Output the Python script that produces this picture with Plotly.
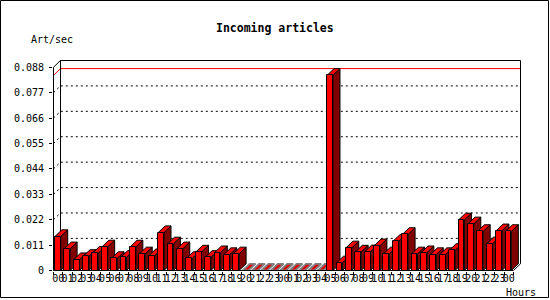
import plotly.graph_objects as go

# ---------------- data ----------------
hours = [f"{h:02d}" for h in range(24)] * 2 + ["00"]
values = [0.0147, 0.0094, 0.0047, 0.0061, 0.0075, 0.0102, 0.0052, 0.0057, 0.0102, 0.0072,
          0.0064, 0.0164, 0.0115, 0.0094, 0.0052, 0.0080, 0.0057, 0.0077, 0.0069, 0.0072,
          0.0, 0.0, 0.0, 0.0, 0.0, 0.0, 0.0, 0.0, 0.0, 0.0845,
          0.0033, 0.0098, 0.0080, 0.0081, 0.0107, 0.0072, 0.0126, 0.0156, 0.0072, 0.0077,
          0.0069, 0.0069, 0.0087, 0.0219, 0.0202, 0.0169, 0.0116, 0.0172, 0.0169]
ytick_vals = [0, 0.011, 0.022, 0.033, 0.044, 0.055, 0.066, 0.077, 0.088]
ytick_text = ["0", "0.011", "0.022", "0.033", "0.044", "0.055", "0.066", "0.077", "0.088"]
title_text = "Incoming articles"
ylabel_text = "Art/sec"
xlabel_text = "Hours"

# ---------------- geometry ----------------
W, H = 550, 300
L, R, T, B = 53, 28, 58, 29
plot_w = W - L - R
plot_h = H - T - B
N = len(values)
ymax_axis = ytick_vals[-1]
ppu = 460.0 / N                 # pixels per category
ppv = 203.3 / ymax_axis         # pixels per value unit
dx = 7.0 / ppu                  # 3D depth in data units
dy = 6.7 / ppv
x0 = -0.5 - 0.5 / ppu
y0 = -0.5 / ppv
xr = [x0, x0 + plot_w / ppu]
yr = [y0, y0 + plot_h / ppv]
bar_off = -0.35
bar_w = 0.62
xs = list(range(N))
xl = -0.5
xrt = N - 0.5

fig = go.Figure()

# side and top faces, drawn bar by bar
for i, v in enumerate(values):
    fl = i + bar_off
    fr = fl + bar_w
    if v > 0:
        fig.add_trace(go.Scatter(
            x=[fr, fr + dx, fr + dx, fr, fr], y=[0, dy, v + dy, v, 0],
            mode="lines", fill="toself", fillcolor="#800000",
            line=dict(color="black", width=1), hoverinfo="skip", showlegend=False, zorder=0))
        fig.add_trace(go.Scatter(
            x=[fl, fr, fr + dx, fl + dx, fl], y=[v, v, v + dy, v + dy, v],
            mode="lines", fill="toself", fillcolor="#ff0000",
            line=dict(color="black", width=1), hoverinfo="skip", showlegend=False, zorder=0))
    else:
        fig.add_trace(go.Scatter(
            x=[fl, fr, fr + dx, fl + dx, fl], y=[0, 0, dy, dy, 0],
            mode="lines", fill="toself", fillcolor="#e00000",
            line=dict(color="#808080", width=1.8), hoverinfo="skip", showlegend=False, zorder=0))

# front faces
fig.add_trace(go.Bar(
    x=xs, y=values, width=bar_w, offset=bar_off,
    marker=dict(color="#ff0000", line=dict(color="black", width=1)),
    hoverinfo="skip", showlegend=False, zorder=1))

shapes = []
# dotted grid lines on the back plane
for v in ytick_vals[1:-1]:
    shapes.append(dict(type="path", layer="below",
                       path=f"M {xl},{v} L {xl+dx},{v+dy} L {xrt+dx},{v+dy}",
                       line=dict(color="black", width=1, dash="2px,3px")))
# red max line
vmax = max(values)
shapes.append(dict(type="path", layer="below",
                   path=f"M {xl},{vmax} L {xl+dx},{vmax+dy} L {xrt+dx},{vmax+dy}",
                   line=dict(color="#ff0000", width=1)))
# back plane frame
top = ymax_axis + dy
for (a, b, c, d) in [(xl + dx, dy, xl + dx, top), (xl + dx, top, xrt + dx, top),
                     (xrt + dx, dy, xrt + dx, top), (xl, ymax_axis, xl + dx, top)]:
    shapes.append(dict(type="line", layer="below", x0=a, y0=b, x1=c, y1=d,
                       line=dict(color="black", width=1)))
# front axes
for (a, b, c, d) in [(xl, 0, xl, ymax_axis), (xl, 0, xrt, 0), (xrt, 0, xrt + dx, dy)]:
    shapes.append(dict(type="line", layer="above", x0=a, y0=b, x1=c, y1=d,
                       line=dict(color="black", width=1)))
# outer frame (paper coords)
def px2p(px):
    return (px - L) / plot_w
def py2p(py):
    return (H - B - py) / plot_h
shapes.append(dict(type="rect", xref="paper", yref="paper",
                   x0=px2p(0.5), x1=px2p(548.5), y0=py2p(0.5), y1=py2p(297.5),
                   line=dict(color="black", width=1), fillcolor="rgba(0,0,0,0)"))

font = dict(family="DejaVu Sans Mono", size=10, color="black")
annotations = [
    dict(text=f"<b>{title_text}</b>", xref="paper", yref="paper", x=px2p(275), y=py2p(28),
         xanchor="center", yanchor="middle", showarrow=False,
         font=dict(family="DejaVu Sans Mono", size=11.5, color="black")),
    dict(text=ylabel_text, xref="paper", yref="paper", x=px2p(29), y=py2p(39),
         xanchor="left", yanchor="middle", showarrow=False, font=font),
    dict(text=xlabel_text, xref="paper", yref="paper", x=px2p(504), y=py2p(292),
         xanchor="left", yanchor="middle", showarrow=False, font=font),
]

fig.update_layout(
    width=W, height=H, margin=dict(l=L, r=R, t=T, b=B, pad=0),
    paper_bgcolor="white", plot_bgcolor="white",
    shapes=shapes, annotations=annotations, bargap=0,
    xaxis=dict(range=xr, tickmode="array", tickvals=xs, ticktext=hours,
               ticks="", showgrid=False, zeroline=False, showline=False,
               tickfont=font, tickangle=0,
               minor=dict(tickmode="array", tickvals=[i - 0.5 for i in range(N + 1)],
                          ticks="outside", ticklen=3, tickcolor="black", tickwidth=1,
                          showgrid=False)),
    yaxis=dict(range=yr, tickmode="array", tickvals=ytick_vals, ticktext=ytick_text,
               ticks="outside", ticklen=3, tickcolor="black", tickwidth=1,
               ticklabelstandoff=3,
               showgrid=False, zeroline=False, showline=False, tickfont=font),
)

fig.write_html("out.html")
